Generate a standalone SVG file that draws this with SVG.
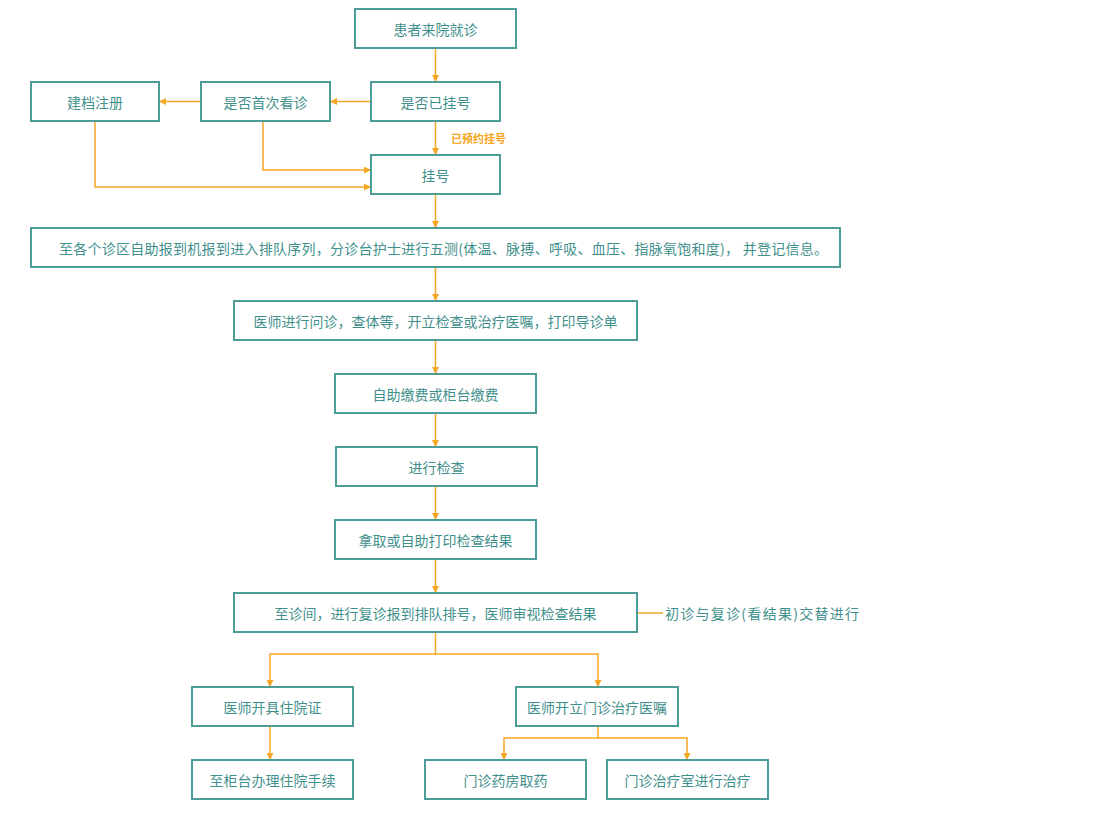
<svg xmlns="http://www.w3.org/2000/svg" width="1118" height="816" viewBox="0 0 1118 816">
<style>
.box{fill:#fff;stroke:#4e9c98;stroke-width:2}
.t{font-family:"Noto Sans CJK SC","Liberation Sans",sans-serif;font-size:14px;fill:#3f908c;text-anchor:middle;dominant-baseline:central}
.c{fill:none;stroke:#f5a623;stroke-width:1.5}
.lbl{font-family:"Noto Sans CJK SC","Liberation Sans",sans-serif;font-size:11px;font-weight:bold;fill:#f5a623}
</style>
<defs>
<marker id="a" viewBox="0 0 10 10" refX="10" refY="5" markerWidth="7" markerHeight="7" orient="auto" markerUnits="userSpaceOnUse">
<path d="M0,0 L10,5 L0,10 z" fill="#f5a623"/>
</marker>
</defs>
<rect width="1118" height="816" fill="#fff"/>
<g id="connectors">
<path class="c" d="M435.5,48 V82" marker-end="url(#a)"/>
<path class="c" d="M371,101.5 H330" marker-end="url(#a)"/>
<path class="c" d="M201,101.5 H159" marker-end="url(#a)"/>
<path class="c" d="M435.5,121 V155" marker-end="url(#a)"/>
<path class="c" d="M263,121 V170 H371" marker-end="url(#a)"/>
<path class="c" d="M95,121 V187 H371" marker-end="url(#a)"/>
<path class="c" d="M435.5,194 V228" marker-end="url(#a)"/>
<path class="c" d="M435.5,267 V301" marker-end="url(#a)"/>
<path class="c" d="M435.5,340 V374" marker-end="url(#a)"/>
<path class="c" d="M435.5,413 V447" marker-end="url(#a)"/>
<path class="c" d="M435.5,486 V520" marker-end="url(#a)"/>
<path class="c" d="M435.5,559 V593" marker-end="url(#a)"/>
<path class="c" d="M637,613 H663"/>
<path class="c" d="M435.5,632 V654 H270 V687" marker-end="url(#a)"/>
<path class="c" d="M435.5,654 H598 V687" marker-end="url(#a)"/>
<path class="c" d="M270,726 V760" marker-end="url(#a)"/>
<path class="c" d="M598,726 V738 H504 V760" marker-end="url(#a)"/>
<path class="c" d="M598,738 H687 V760" marker-end="url(#a)"/>
<text class="lbl" x="451" y="143">已预约挂号</text>
</g>
<g id="n1"><rect class="box" x="355" y="9" width="161" height="39"/><text class="t" x="435.5" y="28.5">患者来院就诊</text></g>
<g id="n2"><rect class="box" x="371" y="82" width="129" height="39"/><text class="t" x="435.5" y="101.5">是否已挂号</text></g>
<g id="n3"><rect class="box" x="201" y="82" width="129" height="39"/><text class="t" x="265.5" y="101.5">是否首次看诊</text></g>
<g id="n4"><rect class="box" x="31" y="82" width="128" height="39"/><text class="t" x="95" y="101.5">建档注册</text></g>
<g id="n5"><rect class="box" x="371" y="155" width="129" height="39"/><text class="t" x="435.5" y="174.5">挂号</text></g>
<g id="n6"><rect class="box" x="31" y="228" width="809" height="39"/><text class="t" x="443.5" y="247.5" textLength="769" lengthAdjust="spacing">至各个诊区自助报到机报到进入排队序列，分诊台护士进行五测(体温、脉搏、呼吸、血压、指脉氧饱和度)， 并登记信息。</text></g>
<g id="n7"><rect class="box" x="234" y="301" width="403" height="39"/><text class="t" x="435.5" y="320.5">医师进行问诊，查体等，开立检查或治疗医嘱，打印导诊单</text></g>
<g id="n8"><rect class="box" x="335" y="374" width="201" height="39"/><text class="t" x="435.5" y="393.5">自助缴费或柜台缴费</text></g>
<g id="n9"><rect class="box" x="336" y="447" width="201" height="39"/><text class="t" x="436.5" y="466.5">进行检查</text></g>
<g id="n10"><rect class="box" x="335" y="520" width="201" height="39"/><text class="t" x="435.5" y="539.5">拿取或自助打印检查结果</text></g>
<g id="n11"><rect class="box" x="234" y="593" width="403" height="39"/><text class="t" x="435.5" y="612.5">至诊间，进行复诊报到排队排号，医师审视检查结果</text></g>
<g id="n11note"><text class="t" x="665" y="612.5" style="text-anchor:start" textLength="194" lengthAdjust="spacing">初诊与复诊(看结果)交替进行</text></g>
<g id="n12"><rect class="box" x="192" y="687" width="161" height="39"/><text class="t" x="272.5" y="706.5">医师开具住院证</text></g>
<g id="n13"><rect class="box" x="516" y="687" width="162" height="39"/><text class="t" x="597" y="706.5">医师开立门诊治疗医嘱</text></g>
<g id="n14"><rect class="box" x="192" y="760" width="161" height="39"/><text class="t" x="272.5" y="779.5">至柜台办理住院手续</text></g>
<g id="n15"><rect class="box" x="425" y="760" width="161" height="39"/><text class="t" x="505.5" y="779.5">门诊药房取药</text></g>
<g id="n16"><rect class="box" x="607" y="760" width="161" height="39"/><text class="t" x="687.5" y="779.5">门诊治疗室进行治疗</text></g>
</svg>
